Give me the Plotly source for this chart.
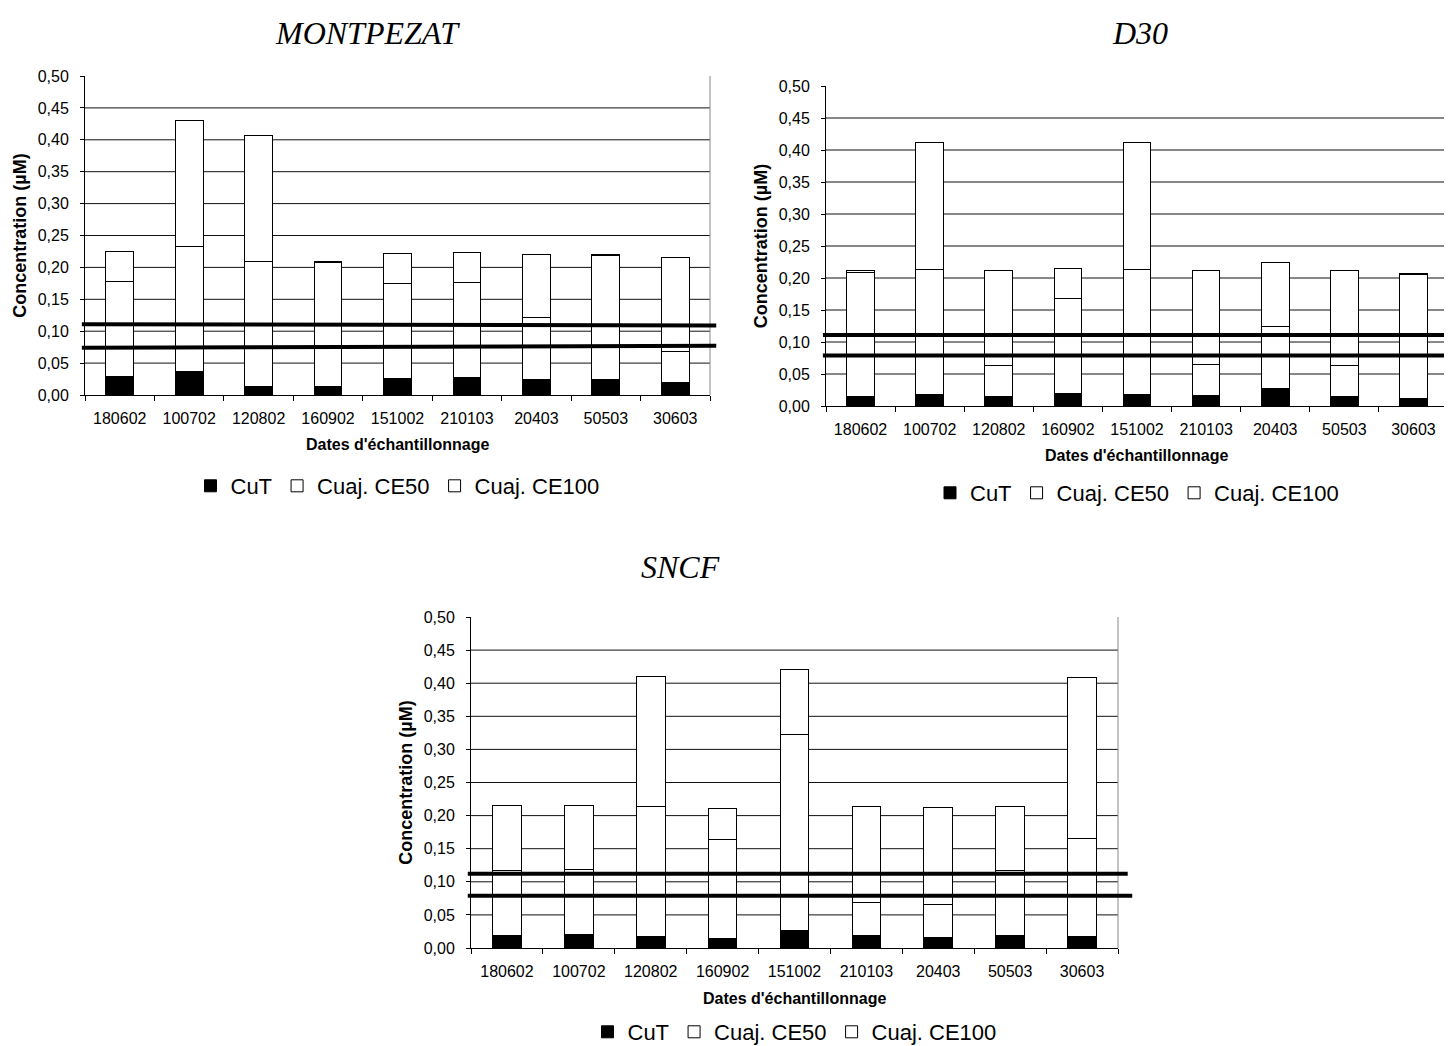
"""Stacked copper concentration bars for three sampling sites."""

from __future__ import annotations

import plotly.graph_objects as go

DATES = ["180602", "100702", "120802", "160902", "151002", "210103", "20403", "50503", "30603"]
SERIES = ["CuT", "Cuaj. CE50", "Cuaj. CE100"]
Y_TICKS = [0.0, 0.05, 0.10, 0.15, 0.20, 0.25, 0.30, 0.35, 0.40, 0.45, 0.50]

# MONTPEZAT
MONT_CUT = [0.029, 0.037, 0.013, 0.013, 0.026, 0.028, 0.024, 0.024, 0.019]
MONT_CE50 = [0.149, 0.196, 0.196, 0.194, 0.149, 0.149, 0.098, 0.194, 0.049]
MONT_CE100 = [0.047, 0.197, 0.197, 0.002, 0.047, 0.047, 0.099, 0.002, 0.147]
MONT_LIMITS = [(0.111, 0.109), (0.074, 0.077)]

# D30
D30_CUT = [0.015, 0.018, 0.015, 0.019, 0.018, 0.016, 0.028, 0.015, 0.012]
D30_CE50 = [0.194, 0.196, 0.049, 0.149, 0.196, 0.049, 0.097, 0.049, 0.193]
D30_CE100 = [0.002, 0.197, 0.147, 0.047, 0.197, 0.146, 0.099, 0.147, 0.002]
D30_LIMITS = [(0.111, 0.111), (0.079, 0.079)]

# SNCF
SNCF_CUT = [0.019, 0.020, 0.018, 0.015, 0.027, 0.019, 0.016, 0.019, 0.017]
SNCF_CE50 = [0.098, 0.098, 0.196, 0.149, 0.295, 0.049, 0.049, 0.098, 0.148]
SNCF_CE100 = [0.098, 0.097, 0.196, 0.047, 0.098, 0.146, 0.147, 0.097, 0.244]
SNCF_LIMITS = [(0.112, 0.112), (0.079, 0.079)]

# the page body adds an 8px offset, so the figure is a little smaller than the window
OFFSET = 8
W, H = 1452 - OFFSET, 1046 - OFFSET
SANS = "Liberation Sans, Arial, sans-serif"
SERIF = "Liberation Serif, Times New Roman, serif"


def px_x(v: float) -> float:
    return (v - OFFSET) / W


def px_y(v: float) -> float:
    return 1 - (v - OFFSET) / H


# panel boxes in window pixels: left, right, top, bottom
PANELS = [
    {"name": "MONTPEZAT", "box": (85, 710, 76, 395), "data": (MONT_CUT, MONT_CE50, MONT_CE100),
     "limits": MONT_LIMITS, "ext": (1.01, 1.01), "title_x": 367, "title_y": 33, "xt_y": 445, "leg_y": 486},
    {"name": "D30", "box": (826, 1448, 86, 406), "data": (D30_CUT, D30_CE50, D30_CE100),
     "limits": D30_LIMITS, "ext": (1.01, 1.01), "title_x": 1140, "title_y": 33, "xt_y": 455, "leg_y": 493},
    {"name": "SNCF", "box": (471, 1118, 617, 948), "data": (SNCF_CUT, SNCF_CE50, SNCF_CE100),
     "limits": SNCF_LIMITS, "ext": (1.015, 1.022), "title_x": 680, "title_y": 567, "xt_y": 998, "leg_y": 1032},
]

fig = go.Figure()
shapes = []
annotations = []
layout = {}

for i, panel in enumerate(PANELS):
    n = "" if i == 0 else str(i + 1)
    xa, ya = "x" + n, "y" + n
    leg = "legend" + n
    left, right, top, bottom = panel["box"]

    for name, values in zip(SERIES, panel["data"]):
        fill = "black" if name == "CuT" else "white"
        fig.add_trace(
            go.Bar(
                name=name, x=DATES, y=values, xaxis=xa, yaxis=ya, legend=leg,
                marker={"color": fill, "line": {"color": "black", "width": 1}},
            )
        )

    layout["xaxis" + n] = {
        "domain": [px_x(left), px_x(right)], "anchor": ya,
        "showline": True, "linecolor": "black", "linewidth": 1,
        "ticks": "outside", "ticklen": 5, "tickcolor": "black", "tickson": "boundaries",
        "ticklabelstandoff": 9,
        "tickfont": {"family": SANS, "size": 16, "color": "black"},
        "showgrid": False, "fixedrange": True,
    }
    layout["yaxis" + n] = {
        "domain": [px_y(bottom), px_y(top)], "anchor": xa, "range": [0, 0.5],
        "tickvals": Y_TICKS, "tickformat": ".2f",
        "showline": True, "linecolor": "black", "linewidth": 1,
        "ticks": "outside", "ticklen": 4, "tickcolor": "black",
        "ticklabelstandoff": 8,
        "tickfont": {"family": SANS, "size": 16, "color": "black"},
        "showgrid": False, "zeroline": False, "fixedrange": True,
        "title": {"text": "Concentration (µM)", "standoff": 6,
                  "font": {"family": SANS, "size": 18, "color": "black", "weight": "bold"}},
    }
    layout[leg] = {
        "orientation": "h", "x": px_x((left + right) / 2), "y": px_y(panel["leg_y"]),
        "xanchor": "center", "yanchor": "middle", "traceorder": "normal",
        "font": {"family": SANS, "size": 22, "color": "black"},
        "itemwidth": 30, "bgcolor": "rgba(0,0,0,0)",
    }

    # gridlines sit behind the opaque bars
    for level in Y_TICKS[1:-1]:
        shapes.append({"type": "line", "xref": xa + " domain", "yref": ya, "x0": 0, "x1": 1,
                       "y0": level, "y1": level, "layer": "below",
                       "line": {"color": "#111", "width": 1}})
    shapes.append({"type": "line", "xref": xa + " domain", "yref": ya + " domain", "x0": 1, "x1": 1,
                   "y0": 0, "y1": 1, "line": {"color": "#888", "width": 1}})
    for (y0, y1), ext in zip(panel["limits"], panel["ext"]):
        shapes.append({"type": "line", "xref": xa + " domain", "yref": ya, "x0": -0.005, "x1": ext,
                       "y0": y0, "y1": y1, "line": {"color": "black", "width": 4}})

    annotations.append({"text": panel["name"], "xref": "paper", "yref": "paper",
                        "x": px_x(panel["title_x"]), "y": px_y(panel["title_y"]),
                        "xanchor": "center", "yanchor": "middle", "showarrow": False,
                        "font": {"family": SERIF, "size": 32, "style": "italic", "color": "black"}})
    annotations.append({"text": "<b>Dates d'échantillonnage</b>", "xref": "paper", "yref": "paper",
                        "x": px_x((left + right) / 2), "y": px_y(panel["xt_y"]),
                        "xanchor": "center", "yanchor": "middle", "showarrow": False,
                        "font": {"family": SANS, "size": 16, "color": "black"}})

fig.update_layout(
    **layout,
    barmode="stack",
    bargap=0.6,
    separators=", ",
    width=W,
    height=H,
    margin={"l": 0, "r": 0, "t": 0, "b": 0, "autoexpand": False},
    plot_bgcolor="white",
    paper_bgcolor="white",
    shapes=shapes,
    annotations=annotations,
)

fig.write_html("out.html")
